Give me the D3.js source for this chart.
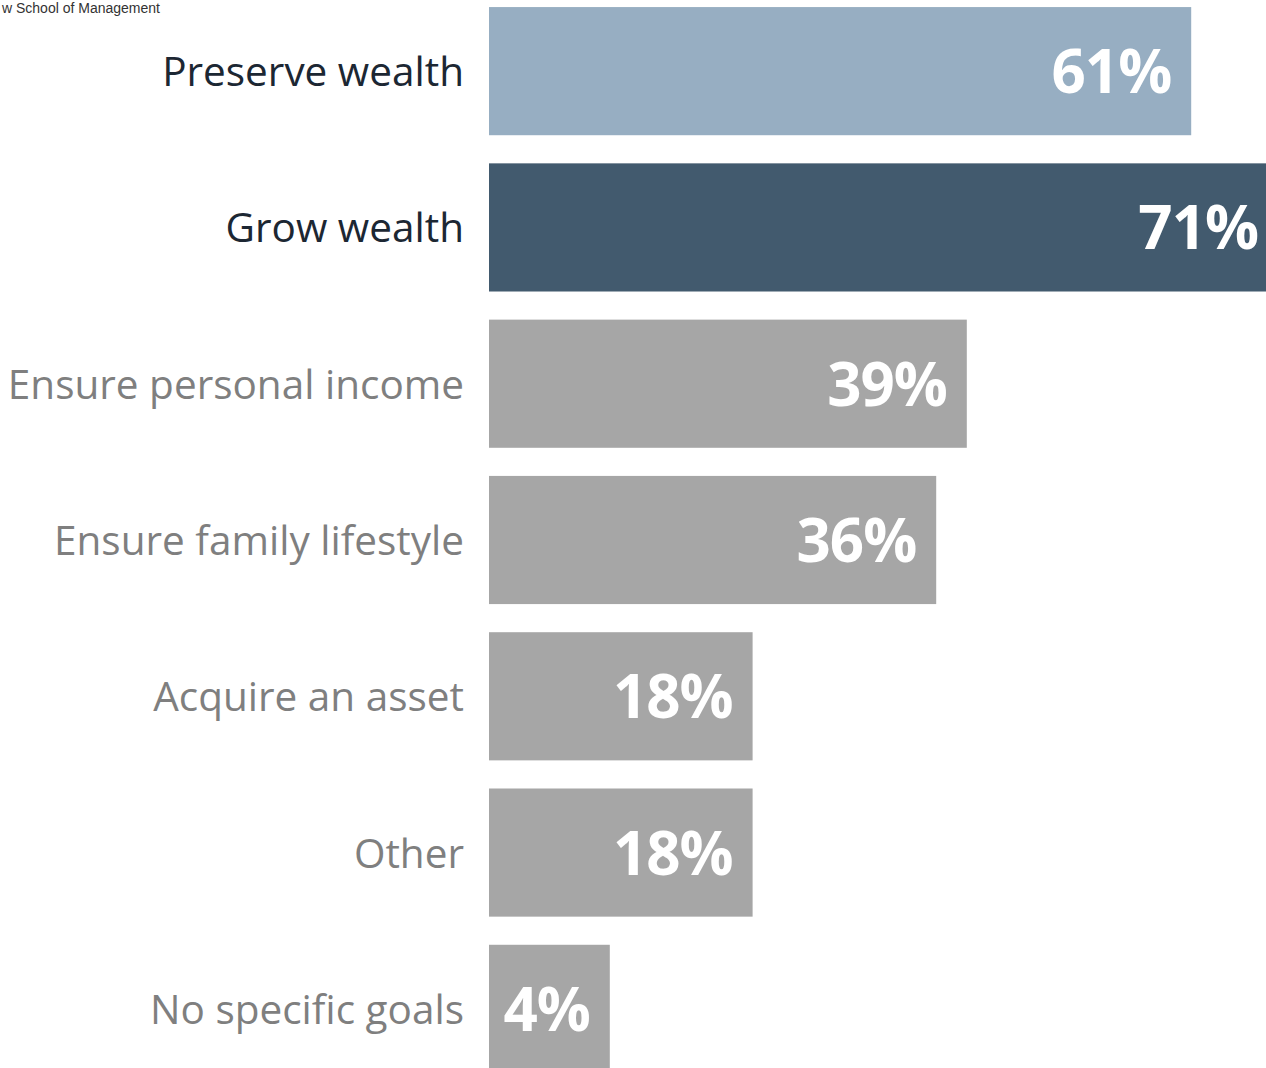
<!DOCTYPE html>
<html>
<head>
<meta charset="utf-8">
<script src="https://cdn.jsdelivr.net/npm/d3@7"></script>
<style>
  html, body { margin: 0; padding: 0; background: #ffffff; overflow: hidden; }
  svg { display: block; }
</style>
</head>
<body>
<svg id="chart"></svg>
<script>
// Investment goals, share of respondents (%)
const categories = [
  "Preserve wealth",
  "Grow wealth",
  "Ensure personal income",
  "Ensure family lifestyle",
  "Acquire an asset",
  "Other",
  "No specific goals"
];
const values = [61, 71, 39, 36, 18, 18, 4];
const valueLabels = ["61%", "71%", "39%", "36%", "18%", "18%", "4%"];
const sourceText = "w School of Management";

const W = 1266, H = 1068;
const barLeft = 489;

const svg = d3.select("#chart").attr("width", W).attr("height", H);

// bar length scale (bars keep a minimum stub so the labels fit)
const x = d3.scaleLinear().domain([0, 100]).range([80, 1100]);

const y = d3.scaleBand()
  .domain(categories)
  .range([-7, 1087])
  .paddingInner(0.18)
  .paddingOuter(0.09);

const barFill = d => d === "Preserve wealth" ? "#97aec2"
                   : d === "Grow wealth" ? "#425a6e" : "#a6a6a6";
const labelFill = d => (d === "Preserve wealth" || d === "Grow wealth") ? "#1c2733" : "#7f7f7f";

const rows = categories.map((c, i) => ({ cat: c, v: values[i], lab: valueLabels[i] }));

// source line at the top-left
svg.append("text")
  .attr("x", 2).attr("y", 13)
  .attr("font-family", "Liberation Sans, Arial, sans-serif")
  .attr("font-size", 14)
  .attr("fill", "#333")
  .text(sourceText);

const g = svg.append("g");

g.selectAll("rect.bar")
  .data(rows)
  .join("rect")
  .attr("class", "bar")
  .attr("x", barLeft)
  .attr("y", d => y(d.cat))
  .attr("width", d => x(d.v))
  .attr("height", y.bandwidth())
  .attr("fill", d => barFill(d.cat));

// value labels inside the bar end, kept within the visible area
g.selectAll("text.val")
  .data(rows)
  .join("text")
  .attr("class", "val")
  .attr("x", d => Math.min(barLeft + x(d.v), W + 12) - 20)
  .attr("y", d => y(d.cat) + y.bandwidth() / 2 + 22)
  .attr("text-anchor", "end")
  .attr("font-family", "Open Sans, sans-serif")
  .attr("font-weight", 700)
  .attr("font-size", 60)
  .attr("letter-spacing", -1)
  .attr("fill", "#ffffff")
  .text(d => d.lab);

// category labels
g.selectAll("text.cat")
  .data(rows)
  .join("text")
  .attr("class", "cat")
  .attr("x", 464)
  .attr("y", d => y(d.cat) + y.bandwidth() / 2 + 15)
  .attr("text-anchor", "end")
  .attr("font-family", "Open Sans, sans-serif")
  .attr("font-size", 40.5)
  .attr("fill", d => labelFill(d.cat))
  .text(d => d.cat);
</script>
</body>
</html>
